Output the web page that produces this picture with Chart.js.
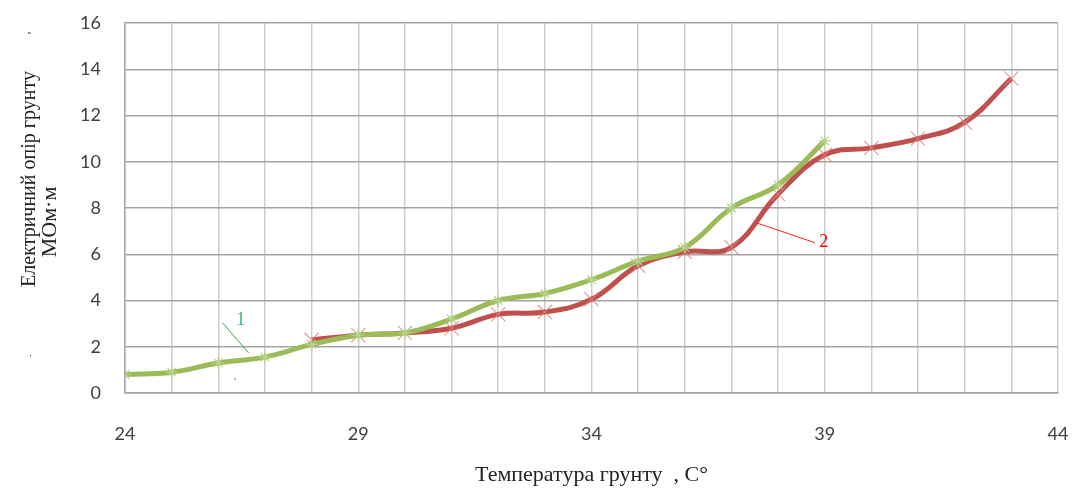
<!DOCTYPE html>
<html>
<head>
<meta charset="utf-8">
<script src="https://cdn.jsdelivr.net/npm/chart.js@4"></script>
<style>
  html, body { margin: 0; padding: 0; background: #fff; }
  #wrap { width: 1074px; height: 488px; }
</style>
</head>
<body>
<div id="wrap"><canvas id="grafico"></canvas></div>
<script>
// крива 1
const temp1 = [24, 25, 26, 27, 28, 29, 30, 31, 32, 33, 34, 35, 36, 37, 38, 39];
const opir1 = [0.8, 0.9, 1.3, 1.55, 2.1, 2.5, 2.6, 3.2, 4.0, 4.3, 4.9, 5.7, 6.3, 8.0, 9.0, 10.9];
// крива 2
const temp2 = [28, 29, 30, 31, 32, 33, 34, 35, 36, 37, 38, 39, 40, 41, 42, 43];
const opir2 = [2.3, 2.5, 2.6, 2.8, 3.4, 3.5, 4.05, 5.5, 6.1, 6.3, 8.6, 10.3, 10.6, 11.0, 11.7, 13.6];

const xTickLabels = [24, 29, 34, 39, 44];
const yTitle = ["Електричний опір грунту", "МОм·м"];
const xTitle = "Температура грунту  , С°";

const toPoints = (xs, ys) => xs.map((x, i) => ({ x: x, y: ys[i] }));

// підписи кривих з виносками + назва осі Y
const labelsPlugin = {
  id: "labels",
  afterDatasetsDraw(chart) {
    const ctx = chart.ctx;
    const sx = chart.scales.x, sy = chart.scales.y;
    const px = v => sx.getPixelForValue(v), py = v => sy.getPixelForValue(v);
    ctx.save();
    ctx.lineWidth = 1;
    ctx.strokeStyle = "#22b14c";
    ctx.beginPath();
    ctx.moveTo(px(26.09), py(3.04));
    ctx.lineTo(px(26.65), py(1.73));
    ctx.stroke();
    ctx.fillStyle = "#22b14c";
    ctx.fillRect(px(26.34), py(0.63), 1.5, 1.5);
    ctx.font = "18px 'Liberation Serif'";
    ctx.textAlign = "center";
    ctx.textBaseline = "middle";
    ctx.fillStyle = "#3cb371";
    ctx.fillText("1", px(26.48), py(3.13));

    ctx.strokeStyle = "#ff2020";
    ctx.beginPath();
    ctx.moveTo(px(37.53), py(7.36));
    ctx.lineTo(px(38.79), py(6.5));
    ctx.stroke();
    ctx.fillStyle = "#ff0000";
    ctx.fillText("2", px(38.98), py(6.53));

    ctx.fillStyle = "#222";
    ctx.font = "20px 'Liberation Serif'";
    ctx.save();
    ctx.translate(30, 179);
    ctx.rotate(-Math.PI / 2);
    ctx.fillText(yTitle[0], 0, 0);
    ctx.font = "12px 'Liberation Serif'";
    ctx.fillText(",", 146, -4);
    ctx.restore();
    ctx.save();
    ctx.font = "22px 'Liberation Serif'";
    ctx.translate(50, 222);
    ctx.rotate(-Math.PI / 2);
    ctx.fillText(yTitle[1], 0, 0);
    ctx.restore();
    ctx.fillRect(30, 355, 1, 1);
    ctx.restore();
  }
};

const ctx = document.getElementById("grafico").getContext("2d");

new Chart(ctx, {
  type: "line",
  data: {
    datasets: [
      {
        label: "1",
        data: toPoints(temp1, opir1),
        borderColor: "#9bbb59",
        borderWidth: 5,
        tension: 0.4,
        pointStyle: "star",
        pointRadius: 6,
        pointBorderColor: "#b7d38a",
        pointBackgroundColor: "#b7d38a",
        pointBorderWidth: 1.2
      },
      {
        label: "2",
        data: toPoints(temp2, opir2),
        borderColor: "#c0504d",
        borderWidth: 5,
        tension: 0.4,
        pointStyle: "crossRot",
        pointRadius: 10,
        pointBorderColor: "rgba(220,130,128,0.8)",
        pointBackgroundColor: "rgba(220,130,128,0.8)",
        pointBorderWidth: 1.2
      }
    ]
  },
  plugins: [labelsPlugin],
  options: {
    responsive: true,
    maintainAspectRatio: false,
    animation: false,
    layout: { padding: { top: 23, right: 16, left: 0, bottom: 0 } },
    plugins: {
      legend: { display: false },
      tooltip: { enabled: false }
    },
    scales: {
      x: {
        type: "linear",
        min: 24,
        max: 44,
        afterFit: (scale) => { scale.height = 95; },
        grid: { color: "#cdcdcd", lineWidth: 1.5, drawTicks: true, tickLength: 30, tickColor: "rgba(0,0,0,0)" },
        border: { color: "#a6a6a6", width: 1.5 },
        ticks: {
          stepSize: 1,
          autoSkip: false,
          maxRotation: 0,
          padding: 0,
          color: "#404040",
          font: { family: "Lato", size: 18 },
          callback: (v) => xTickLabels.includes(v) ? String(v) : ""
        },
        title: {
          display: true,
          text: xTitle,
          color: "#222",
          font: { family: "Liberation Serif", size: 22 },
          padding: { top: 8, bottom: 0 }
        }
      },
      y: {
        min: 0,
        max: 16,
        afterFit: (scale) => { scale.width = 125; },
        grid: { color: "#a3a3a3", lineWidth: 1.5, drawTicks: true, tickLength: 24, tickColor: "rgba(0,0,0,0)" },
        border: { color: "#a6a6a6", width: 1.5 },
        ticks: {
          stepSize: 2,
          padding: 0,
          color: "#404040",
          font: { family: "Lato", size: 18 }
        }
      }
    }
  }
});
</script>
</body>
</html>
